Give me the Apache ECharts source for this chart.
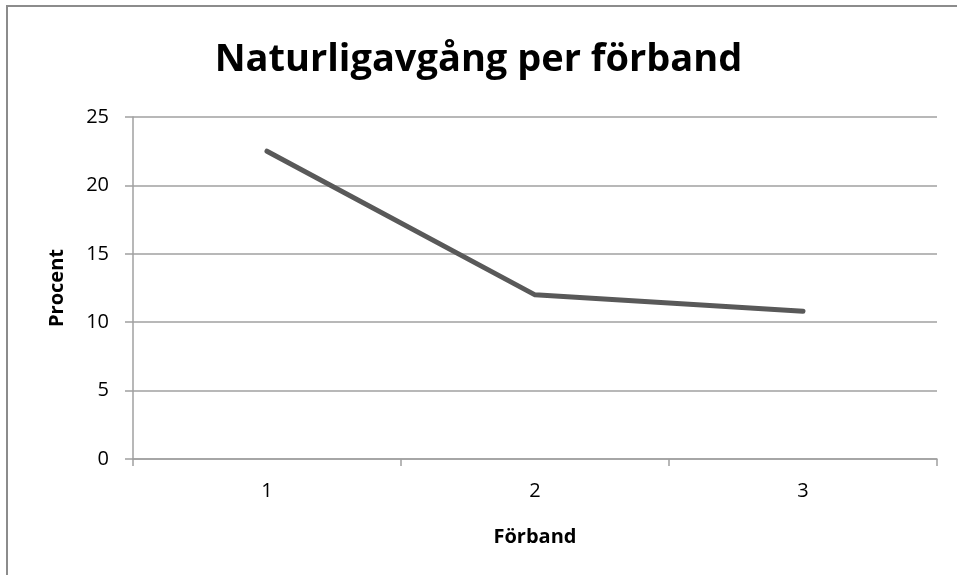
<!DOCTYPE html>
<html>
<head>
<meta charset="utf-8">
<script src="https://cdn.jsdelivr.net/npm/echarts@6/dist/echarts.min.js"></script>
<style>
  html, body { margin: 0; padding: 0; background: #fff; }
  #chart { width: 957px; height: 575px; }
</style>
</head>
<body>
<div id="chart"></div>
<script>
const categories = ['1', '2', '3'];
const values = [22.5, 12.0, 10.8];
const yTicks = { min: 0, max: 25, interval: 5 };

const chart = echarts.init(document.getElementById('chart'));
const gridColor = '#a0a0a0';
const font = '"Open Sans", "DejaVu Sans", sans-serif';

const option = {
  animation: false,
  backgroundColor: '#fff',
  title: {
    text: 'Naturligavgång per förband',
    left: 'center',
    top: 36,
    textStyle: { fontFamily: font, fontWeight: 'bold', fontSize: 38, color: '#000' }
  },
  graphic: [
    {
      type: 'rect',
      shape: { x: 7, y: 6, width: 1000, height: 1000 },
      style: { fill: 'none', stroke: '#8c8c8c', lineWidth: 2 },
      silent: true
    }
  ],
  grid: { left: 133, right: 20, top: 117, bottom: 116 },
  xAxis: {
    type: 'category',
    data: categories,
    boundaryGap: true,
    name: 'Förband',
    nameLocation: 'middle',
    nameGap: 68,
    nameTextStyle: { fontFamily: font, fontWeight: 'bold', fontSize: 20, color: '#000' },
    axisLine: { show: true, lineStyle: { color: gridColor, width: 1.5 } },
    axisTick: { show: true, interval: 0, length: 7, lineStyle: { color: gridColor, width: 1.5 } },
    axisLabel: { margin: 22, fontFamily: font, fontSize: 20, color: '#000' },
    splitLine: { show: false }
  },
  yAxis: {
    type: 'value',
    min: yTicks.min,
    max: yTicks.max,
    interval: yTicks.interval,
    name: 'Procent',
    nameLocation: 'middle',
    nameGap: 66,
    nameRotate: 90,
    nameTextStyle: { fontFamily: font, fontWeight: 'bold', fontSize: 20, color: '#000' },
    axisLine: { show: true, lineStyle: { color: gridColor, width: 1.5 } },
    axisTick: { show: true, length: 8, lineStyle: { color: gridColor, width: 1.5 } },
    axisLabel: { margin: 24, fontFamily: font, fontSize: 20, color: '#000' },
    splitLine: { show: true, lineStyle: { color: gridColor, width: 1.5 } }
  },
  series: [
    {
      type: 'line',
      data: values,
      showSymbol: false,
      lineStyle: { color: '#595959', width: 5, cap: 'round', join: 'round' },
      itemStyle: { color: '#595959' }
    }
  ]
};

chart.setOption(option);
</script>
</body>
</html>
